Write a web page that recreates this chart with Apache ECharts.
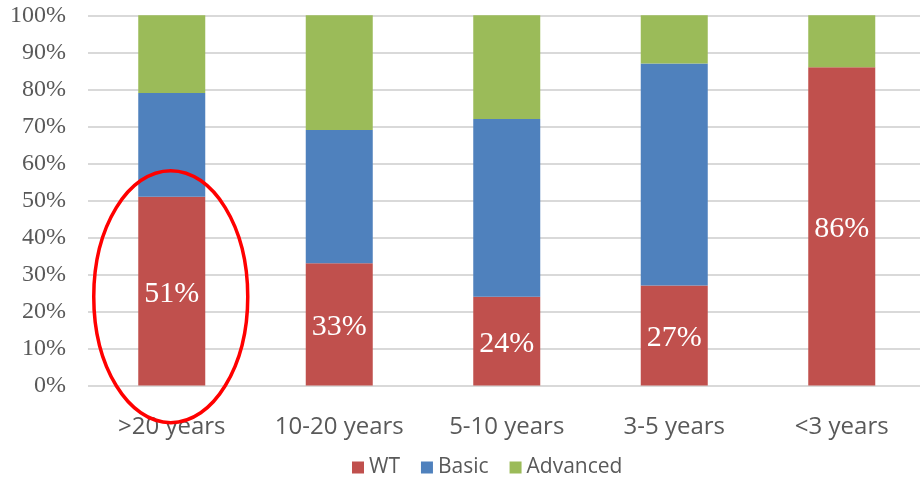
<!DOCTYPE html>
<html>
<head>
<meta charset="utf-8">
<script src="https://cdn.jsdelivr.net/npm/echarts@6/dist/echarts.min.js"></script>
<style>
  html, body { margin: 0; padding: 0; background: #ffffff; overflow: hidden; }
  #chart { width: 926px; height: 477px; }
</style>
</head>
<body>
<div id="chart"></div>
<script>
// Experience groups and the share of each skill level (percent of group)
const categories = ['>20 years', '10-20 years', '5-10 years', '3-5 years', '<3 years'];
const wtValues = [51, 33, 24, 27, 86];
const basicValues = [28, 36, 48, 60, 0];
const advancedValues = [21, 31, 28, 13, 14];
const yTicks = [0, 10, 20, 30, 40, 50, 60, 70, 80, 90, 100];

const seriesNames = ['WT', 'Basic', 'Advanced'];
const seriesColors = ['#c0504d', '#4f81bd', '#9bbb59'];

const chart = echarts.init(document.getElementById('chart'));

const barCommon = {
  type: 'bar',
  stack: 'share',
  barWidth: '40%',
  emphasis: { disabled: true }
};

chart.setOption({
  animation: false,
  backgroundColor: '#ffffff',
  grid: { left: 88, top: 15.3, width: 837.5, height: 370.2, containLabel: false },
  legend: {
    left: 347,
    top: 452,
    itemWidth: 12,
    itemHeight: 12,
    itemGap: 21,
    icon: 'rect',
    textStyle: { fontFamily: 'Open Sans', fontSize: 21, color: '#595959' },
    data: seriesNames
  },
  xAxis: {
    type: 'category',
    data: categories,
    axisLine: { show: false },
    axisTick: { show: false },
    axisLabel: {
      interval: 0,
      margin: 30,
      fontFamily: 'Open Sans',
      fontSize: 24,
      color: '#595959'
    }
  },
  yAxis: {
    type: 'value',
    min: yTicks[0],
    max: yTicks[yTicks.length - 1],
    interval: yTicks[1] - yTicks[0],
    axisLine: { show: false },
    axisTick: { show: false },
    splitLine: { lineStyle: { color: '#d9d9d9', width: 2 } },
    axisLabel: {
      margin: 22,
      formatter: '{value}%',
      fontFamily: 'Liberation Serif',
      fontSize: 24,
      color: '#595959'
    }
  },
  series: [
    Object.assign({}, barCommon, {
      name: seriesNames[0],
      data: wtValues,
      itemStyle: { color: seriesColors[0] },
      label: {
        show: true,
        position: 'inside',
        offset: [0, 3],
        formatter: '{c}%',
        fontFamily: 'Liberation Serif',
        fontSize: 30,
        color: '#ffffff'
      }
    }),
    Object.assign({}, barCommon, {
      name: seriesNames[1],
      data: basicValues,
      itemStyle: { color: seriesColors[1] }
    }),
    Object.assign({}, barCommon, {
      name: seriesNames[2],
      data: advancedValues,
      itemStyle: { color: seriesColors[2] }
    })
  ]
});

// Red ring highlighting the oldest group, anchored to its bar position
const ringCenter = chart.convertToPixel({ xAxisIndex: 0, yAxisIndex: 0 }, [categories[0], 24]);
chart.setOption({
  graphic: [{
    type: 'ellipse',
    shape: { cx: ringCenter[0] - 1, cy: ringCenter[1], rx: 77, ry: 126 },
    style: { fill: 'none', stroke: '#ff0000', lineWidth: 3.5 },
    z: 100
  }]
});
</script>
</body>
</html>
